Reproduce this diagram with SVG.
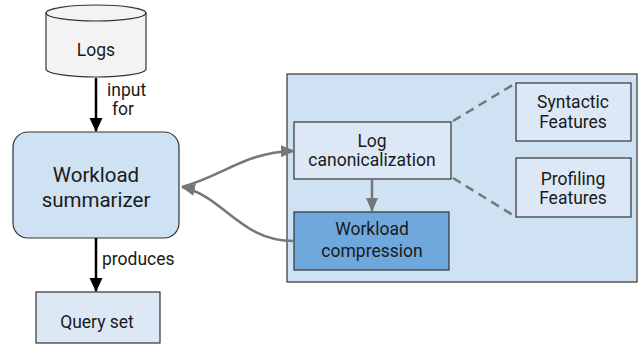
<svg xmlns="http://www.w3.org/2000/svg" width="640" height="352" viewBox="0 0 640 352">
<defs>
<style>
text{font-family:Roboto,"Liberation Sans",sans-serif;fill:#1a1a1a;text-anchor:middle;font-size:17.5px}
.b{stroke:#333;stroke-width:1.2}
.lt{fill:#dde8f7}
.lbl{text-anchor:start}
.big{font-size:20.5px}
.gc{fill:none;stroke:#777;stroke-width:2.5}
.k{fill:none;stroke:#000;stroke-width:2.5}
</style>
<marker id="ak" markerWidth="14" markerHeight="15" refX="14" refY="7" orient="auto" markerUnits="userSpaceOnUse" viewBox="0 0 15 14"><path d="M0,0L15,7L0,14z" fill="#000"/></marker>
<marker id="ag" markerWidth="14" markerHeight="12" refX="13" refY="6" orient="auto" markerUnits="userSpaceOnUse" viewBox="0 0 14 12"><path d="M0,0L14,6L0,12z" fill="#777"/></marker>
</defs>
<rect width="640" height="352" fill="#fff"/>
<g id="logs">
<path class="b" d="M46,13 A50,8 0 0 1 146,13 L146,69 A50,8 0 0 1 46,69 Z" fill="#f3f3f3"/>
<path class="b" d="M46,13 A50,8 0 0 0 146,13" fill="none"/>
<text x="96" y="56">Logs</text>
</g>
<g id="summarizer">
<rect class="b" x="13" y="132" width="166" height="106" rx="15" fill="#cfe2f3"/>
<text class="big" x="96" y="182">Workload</text>
<text class="big" x="96" y="207">summarizer</text>
</g>
<g id="queryset">
<rect class="b lt" x="36" y="292" width="124" height="51"/>
<text x="97" y="328">Query set</text>
</g>
<g id="container">
<rect class="b" x="287" y="74" width="350" height="208" fill="#cfe2f3"/>
</g>
<g id="canonicalization">
<rect class="b lt" x="294" y="122" width="157" height="57"/>
<text x="372" y="147">Log</text>
<text x="372" y="166">canonicalization</text>
</g>
<g id="compression">
<rect class="b" x="294" y="212" width="155" height="58" fill="#6fa8dc"/>
<text x="372" y="235">Workload</text>
<text x="372" y="257">compression</text>
</g>
<g id="syntactic">
<rect class="b lt" x="516" y="83" width="115" height="58"/>
<text x="573" y="108">Syntactic</text>
<text x="573" y="128">Features</text>
</g>
<g id="profiling">
<rect class="b lt" x="516" y="158" width="115" height="59"/>
<text x="573" y="185">Profiling</text>
<text x="573" y="204">Features</text>
</g>
<g id="connectors">
<path class="k" d="M96,78 L96,131" marker-end="url(#ak)"/>
<path class="k" d="M96,238 L96,291" marker-end="url(#ak)"/>
<path class="gc" d="M182,187 C225,175 245,152 294,151" marker-end="url(#ag)"/>
<path class="gc" d="M294,241 C240,241 225,197 182,187" marker-end="url(#ag)"/>
<path class="gc" d="M372,179 L372,211" marker-end="url(#ag)"/>
<path d="M453,121 L516,83 M453,178 L516,217" fill="none" stroke="#777" stroke-width="2.5" stroke-dasharray="9,6"/>
</g>
<g id="labels">
<text class="lbl" x="107" y="96">input</text>
<text class="lbl" x="112" y="115">for</text>
<text class="lbl" x="102" y="265">produces</text>
</g>
</svg>
